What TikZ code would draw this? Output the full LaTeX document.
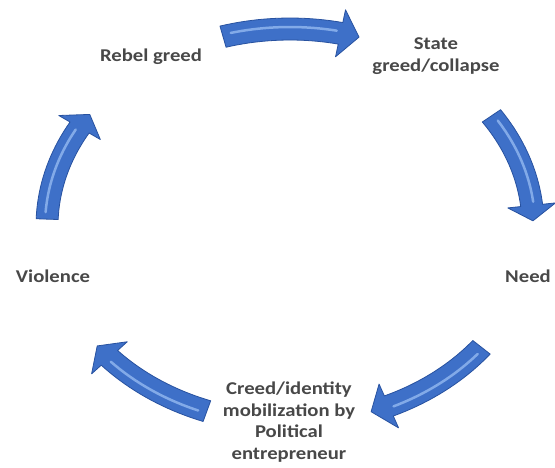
\documentclass[tikz,border=0pt]{standalone}
\usepackage{fontspec}
\setmainfont{Carlito}
\newfontfamily\stagefont[FakeStretch=1.15]{Carlito}
\usetikzlibrary{positioning}
\definecolor{arrowblue}{RGB}{62,112,200}
\definecolor{arrowdark}{RGB}{40,82,160}
\definecolor{arrowlight}{RGB}{130,170,232}
\definecolor{labelgrey}{RGB}{72,72,72}

\begin{document}
\begin{tikzpicture}[x=1pt,y=-1pt,
  lbl/.style={text=labelgrey,font=\stagefont\fontsize{18}{21.5}\selectfont\bfseries,
              align=center,inner sep=0pt},
  blockarrow/.style={fill=arrowblue,draw=arrowdark,line width=0.8pt,line join=round},
  shine/.style={draw=arrowlight,line width=2.5pt,line cap=round}]
  \fill[white] (0,0) rectangle (555,467);
  \useasboundingbox (0,0) rectangle (555,467);

  % the five stages of the cycle
  \node[lbl] (rebel)    at (151,57)  {Rebel greed};
  \node[lbl] (state)    at (436,56)  {State\\greed/collapse};
  \node[lbl] (need)     at (528,276) {Need};
  \node[lbl] (creed)    at (289,422) {Creed/identity\\mobilization by\\Political\\entrepreneur};
  \node[lbl] (violence) at (53,276)  {Violence};

  % curved block arrows on the ellipse between the stages
  \foreach \m in {90,18,-54,-126,162} {
    \pgfmathsetmacro\ta{\m+16}
    \pgfmathsetmacro\tb{\m-12}
    \pgfmathsetmacro\tc{\m-16.5}
    \draw[blockarrow]
      plot[domain=\ta:\tb,samples=20] ({290+254*cos(\x)},{226-208*sin(\x)})
      -- ({290+267*cos(\tb)},{226-221*sin(\tb)})
      -- ({290+243*cos(\tc)},{226-197*sin(\tc)})
      -- ({290+219*cos(\tb)},{226-173*sin(\tb)})
      -- plot[domain=\tb:\ta,samples=20] ({290+232*cos(\x)},{226-186*sin(\x)})
      -- cycle;
    \pgfmathsetmacro\td{\m+14}
    \pgfmathsetmacro\te{\m-11}
    \draw[shine] plot[domain=\td:\te,samples=20] ({290+245*cos(\x)},{226-199*sin(\x)});
  }
\end{tikzpicture}
\end{document}
